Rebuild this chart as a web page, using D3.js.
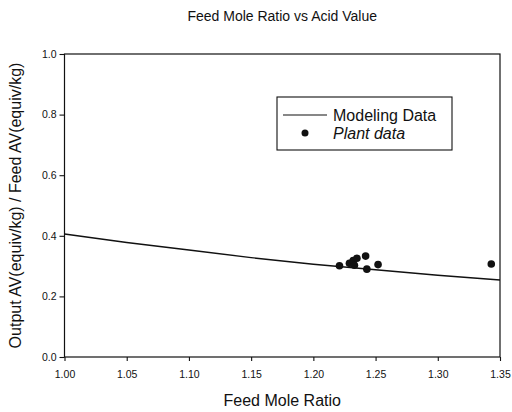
<!DOCTYPE html>
<html>
<head>
<meta charset="utf-8">
<script src="https://cdn.jsdelivr.net/npm/d3@7"></script>
<style>
  html, body { margin: 0; padding: 0; background: #fff; }
  svg { display: block; font-family: "Liberation Sans", Arial, sans-serif; }
</style>
</head>
<body>
<svg id="chart" width="512" height="412"></svg>
<script>
// Modeling Data (line)
const modelX = [1.00, 1.05, 1.10, 1.15, 1.20, 1.25, 1.30, 1.35];
const modelY = [0.406, 0.378, 0.353, 0.328, 0.306, 0.288, 0.270, 0.254];
// Plant data (points)
const plantX = [1.221, 1.229, 1.232, 1.235, 1.233, 1.242, 1.243, 1.252, 1.343];
const plantY = [0.301, 0.309, 0.318, 0.326, 0.303, 0.333, 0.290, 0.305, 0.307];
// ticks
const xTicks = [1.00, 1.05, 1.10, 1.15, 1.20, 1.25, 1.30, 1.35];
const yTicks = [0.0, 0.2, 0.4, 0.6, 0.8, 1.0];

const svg = d3.select("#chart");
const m = {left: 64.5, right: 500, top: 54, bottom: 357};
const x = d3.scaleLinear().domain([1.00, 1.35]).range([m.left, m.right]);
const y = d3.scaleLinear().domain([0, 1]).range([m.bottom, m.top]);

// title
svg.append("text").attr("x", (m.left + m.right) / 2).attr("y", 21)
  .attr("text-anchor", "middle").attr("font-size", 14).attr("fill", "#111")
  .text("Feed Mole Ratio vs Acid Value");

// frame
svg.append("rect").attr("x", m.left).attr("y", m.top)
  .attr("width", m.right - m.left).attr("height", m.bottom - m.top)
  .attr("fill", "none").attr("stroke", "#111").attr("stroke-width", 1.2);

// axes
const xAxis = d3.axisBottom(x).tickValues(xTicks).tickFormat(d3.format(".2f")).tickSize(4).tickPadding(5);
const gx = svg.append("g").attr("transform", `translate(0,${m.bottom})`).call(xAxis);
const yAxis = d3.axisLeft(y).tickValues(yTicks).tickFormat(d3.format(".1f")).tickSize(5).tickPadding(3);
const gy = svg.append("g").attr("transform", `translate(${m.left},0)`).call(yAxis);
[gx, gy].forEach(g => {
  g.select(".domain").remove();
  g.selectAll(".tick line").attr("stroke", "#111").attr("stroke-width", 1.1);
  g.selectAll(".tick text").attr("font-size", 10.5).attr("fill", "#111")
    .attr("font-family", "Liberation Sans, Arial, sans-serif");
});
gx.selectAll(".tick text").attr("dy", "1.1em");

// axis labels
svg.append("text").attr("x", (m.left + m.right) / 2).attr("y", 406)
  .attr("text-anchor", "middle").attr("font-size", 16).attr("fill", "#111")
  .text("Feed Mole Ratio");
svg.append("text")
  .attr("transform", `translate(21,${(m.top + m.bottom) / 2}) rotate(-90)`)
  .attr("text-anchor", "middle").attr("font-size", 16).attr("fill", "#111")
  .text("Output AV(equiv/kg) / Feed AV(equiv/kg)");

// model line
const line = d3.line().x((d, i) => x(modelX[i])).y(d => y(d));
svg.append("path").datum(modelY).attr("d", line)
  .attr("fill", "none").attr("stroke", "#111").attr("stroke-width", 1.4);

// plant points
svg.append("g").selectAll("circle").data(plantY).join("circle")
  .attr("cx", (d, i) => x(plantX[i])).attr("cy", d => y(d)).attr("r", 3.8)
  .attr("fill", "#111");

// legend
const lg = svg.append("g");
lg.append("rect").attr("x", 277).attr("y", 97).attr("width", 175).attr("height", 53)
  .attr("fill", "#fff").attr("stroke", "#111").attr("stroke-width", 1.1);
lg.append("line").attr("x1", 283).attr("x2", 327).attr("y1", 115).attr("y2", 115)
  .attr("stroke", "#111").attr("stroke-width", 1.2);
lg.append("text").attr("x", 333).attr("y", 120.5).attr("font-size", 16).attr("fill", "#111")
  .text("Modeling Data");
lg.append("circle").attr("cx", 305).attr("cy", 133).attr("r", 3.5).attr("fill", "#111");
lg.append("text").attr("x", 333).attr("y", 138.5).attr("font-size", 16).attr("fill", "#111")
  .attr("font-style", "italic").text("Plant data");
</script>
</body>
</html>
